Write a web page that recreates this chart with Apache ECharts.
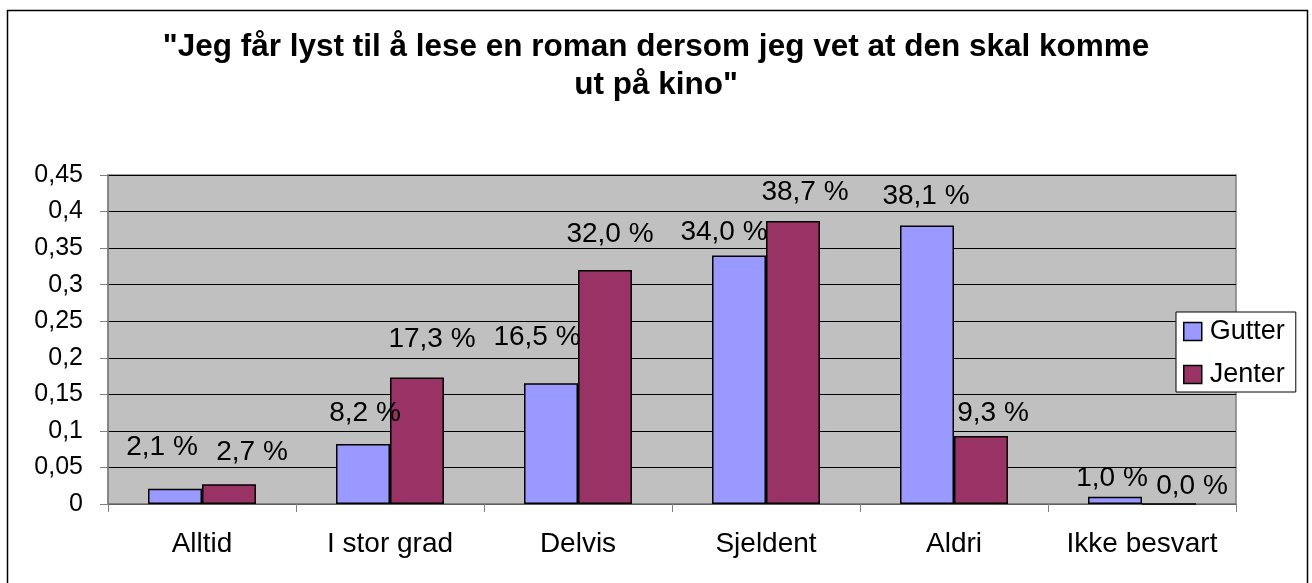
<!DOCTYPE html>
<html>
<head>
<meta charset="utf-8">
<script src="https://cdn.jsdelivr.net/npm/echarts@6/dist/echarts.min.js"></script>
<style>
  html, body { margin: 0; padding: 0; background: #fff; }
  #chart { width: 1312px; height: 583px; }
</style>
</head>
<body>
<div id="chart"></div>
<script>
const titleText = '"Jeg får lyst til å lese en roman dersom jeg vet at den skal komme\nut på kino"'
const categories = ['Alltid', 'I stor grad', 'Delvis', 'Sjeldent', 'Aldri', 'Ikke besvart']
const gutter = [0.021, 0.082, 0.165, 0.340, 0.381, 0.010]
const jenter = [0.027, 0.173, 0.320, 0.387, 0.093, 0.000]

// label nudges, the source chart has hand placed labels
const gutterLabelOffset = [[-13, -22], [2, -12], [-14, -27], [-15, -4], [-1, -10], [-3, 1]]
const jenterLabelOffset = [[23, -13], [15, -19], [5, -17], [12, -10], [12, -4], [23, 2]]

const font = '"Liberation Sans", Arial, sans-serif'

function pct (v) {
  return (v * 100).toFixed(1).replace('.', ',') + ' %'
}

function withLabels (values, offsets) {
  return values.map((v, i) => ({ value: v, label: { offset: offsets[i] } }))
}

const chart = echarts.init(document.getElementById('chart'))

chart.setOption({
  animation: false,
  backgroundColor: '#fff',
  textStyle: { fontFamily: font, color: '#000' },
  title: {
    text: titleText,
    left: 'center',
    top: 23,
    textStyle: { fontSize: 31.5, fontWeight: 'bold', lineHeight: 38, color: '#000', fontFamily: font }
  },
  graphic: [{
    type: 'rect',
    shape: { x: 7.5, y: 10.5, width: 1300, height: 620 },
    style: { fill: null, stroke: '#000', lineWidth: 1.5 },
    silent: true,
    z: -1
  }],
  legend: {
    orient: 'vertical',
    left: 1176,
    top: 312,
    padding: [6, 11, 4, 7],
    itemGap: 16,
    itemWidth: 18,
    itemHeight: 18,
    icon: 'rect',
    backgroundColor: '#fff',
    borderColor: '#000',
    borderWidth: 1,
    itemStyle: { borderColor: '#000', borderWidth: 1.5 },
    textStyle: { fontSize: 27, fontFamily: font, color: '#000', padding: [0, 0, 0, 3] },
    z: 10
  },
  grid: {
    left: 108,
    right: 76,
    top: 175,
    bottom: 79,
    show: true,
    backgroundColor: '#c0c0c0',
    borderColor: '#808080',
    borderWidth: 1.5
  },
  xAxis: {
    type: 'category',
    data: categories,
    axisLine: { lineStyle: { color: '#808080', width: 1.5 } },
    axisTick: { show: true, interval: 0, length: 8, lineStyle: { color: '#808080' } },
    axisLabel: { interval: 0, fontSize: 28, color: '#000', margin: 26, fontFamily: font }
  },
  yAxis: {
    type: 'value',
    min: 0,
    max: 0.45,
    interval: 0.05,
    axisLine: { show: true, lineStyle: { color: '#808080', width: 1.5 } },
    axisTick: { show: true, length: 8, lineStyle: { color: '#808080' } },
    axisLabel: {
      fontSize: 25,
      color: '#000',
      margin: 25,
      fontFamily: font,
      formatter: v => String(+v.toFixed(2)).replace('.', ',')
    },
    splitLine: { lineStyle: { color: '#000', width: 1 } }
  },
  series: [
    {
      name: 'Gutter',
      type: 'bar',
      data: withLabels(gutter, gutterLabelOffset),
      barWidth: 54,
      barGap: '0%',
      itemStyle: { color: '#9999ff', borderColor: '#000', borderWidth: 1.5 },
      label: { show: true, position: 'top', distance: 5, fontSize: 28, color: '#000', fontFamily: font, formatter: p => pct(p.value) }
    },
    {
      name: 'Jenter',
      type: 'bar',
      data: withLabels(jenter, jenterLabelOffset),
      barWidth: 54,
      barGap: '0%',
      itemStyle: { color: '#993366', borderColor: '#000', borderWidth: 1.5 },
      label: { show: true, position: 'top', distance: 5, fontSize: 28, color: '#000', fontFamily: font, formatter: p => pct(p.value) }
    }
  ]
})
</script>
</body>
</html>
